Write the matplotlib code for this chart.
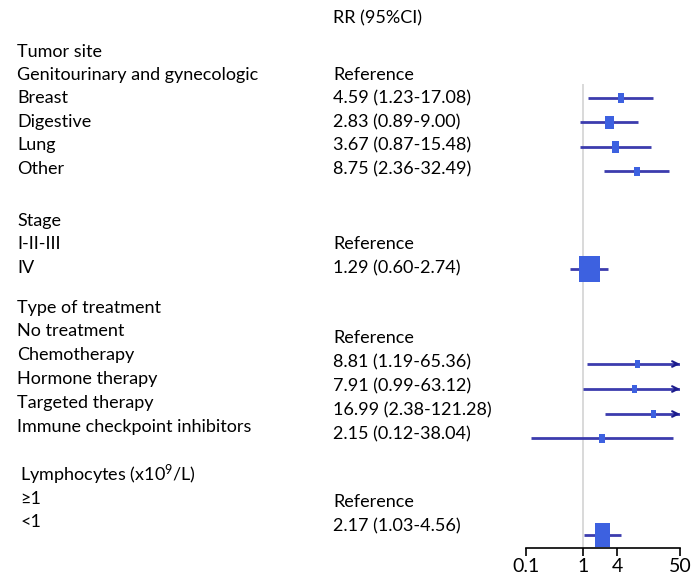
import matplotlib
matplotlib.use("Agg")
import matplotlib.pyplot as plt
from matplotlib.path import Path

plt.rcParams['font.family'] = ['Lato', 'DejaVu Sans']
plt.rcParams['mathtext.fontset'] = 'custom'
plt.rcParams['mathtext.rm'] = 'Lato'
plt.rcParams['mathtext.it'] = 'Lato'
plt.rcParams['mathtext.default'] = 'rm'

# --- data ---
labels = ["Tumor site", "Genitourinary and gynecologic", "Breast", "Digestive", "Lung", "Other",
          "Stage", "I-II-III", "IV",
          "Type of treatment", "No treatment", "Chemotherapy", "Hormone therapy",
          "Targeted therapy", "Immune checkpoint inhibitors",
          "Lymphocytes (x10$^{9}$/L)", "≥1", "<1"]
is_ref = [False, True, False, False, False, False,
          False, True, False,
          False, True, False, False, False, False,
          False, True, False]
rr = [None, None, 4.59, 2.83, 3.67, 8.75,
      None, None, 1.29,
      None, None, 8.81, 7.91, 16.99, 2.15,
      None, None, 2.17]
lo = [None, None, 1.23, 0.89, 0.87, 2.36,
      None, None, 0.60,
      None, None, 1.19, 0.99, 2.38, 0.12,
      None, None, 1.03]
hi = [None, None, 17.08, 9.00, 15.48, 32.49,
      None, None, 2.74,
      None, None, 65.36, 63.12, 121.28, 38.04,
      None, None, 4.56]
xticks = [0.1, 1, 4, 50]
xtick_labels = ["0.1", "1", "4", "50"]

# --- layout (pixel rows) ---
label_y = [52, 75, 98, 122, 145, 169, 221, 244, 268, 308, 331, 355, 379, 403, 427, 475, 499, 522]
value_y = [52, 75, 98, 122, 145, 169, 221, 244, 268, 308, 338, 362, 386, 410, 434, 475, 502, 526]
mark_y = [None, None, 98, 122, 147, 171, None, None, 269, None, None, 364, 389, 414, 438, None, None, 535]
label_x = [17] * 15 + [20] * 3
# box size (w, h) in px
box = [None, None, (7, 10), (9, 13), (7, 12), (6, 9), None, None, (21, 26), None, None,
       (5, 8), (5, 8), (5, 8), (6, 9), None, None, (15, 24)]

W, H = 693, 576
fig = plt.figure(figsize=(W / 100, H / 100), dpi=100)

def fx(x):
    return x / W

def fy(y):
    return 1 - y / H

fs = 13
fig.text(fx(333), fy(18), "RR (95%CI)", fontsize=fs, va='center', ha='left')
for i, lab in enumerate(labels):
    fig.text(fx(label_x[i]), fy(label_y[i]), lab, fontsize=fs, va='center', ha='left')
    if is_ref[i]:
        fig.text(fx(333), fy(value_y[i]), "Reference", fontsize=fs, va='center', ha='left')
    elif rr[i] is not None:
        txt = f"{rr[i]:.2f} ({lo[i]:.2f}-{hi[i]:.2f})"
        fig.text(fx(333), fy(value_y[i]), txt, fontsize=fs, va='center', ha='left')

# forest axes
top, bot = 60, 548
left, right = 526, 680
ax = fig.add_axes([fx(left), fy(bot), (right - left) / W, (bot - top) / H])
ax.set_xscale('log')
ax.set_xlim(0.1, 50)
ax.set_ylim(bot, top)
ax.patch.set_alpha(0)
for s in ['top', 'right', 'left']:
    ax.spines[s].set_visible(False)
ax.spines['bottom'].set_linewidth(1.2)
ax.set_yticks([])
ax.set_xticks(xticks)
ax.set_xticklabels(xtick_labels)
ax.minorticks_off()
ax.tick_params(axis='x', direction='out', length=6, width=1.2, labelsize=14, pad=1)

ax.plot([1, 1], [85, bot], color='#d9d9d9', lw=1.4, zorder=1)

line_c = '#3c3cae'
box_c = '#3d61e0'
arrow_c = '#1c1c8c'
for i in range(len(labels)):
    if rr[i] is None:
        continue
    y = mark_y[i]
    x1 = min(hi[i], 50)
    ax.plot([lo[i], x1], [y, y], color=line_c, lw=2, zorder=2, solid_capstyle='butt')
    if hi[i] > 50:
        ax.annotate("", xy=(50, y), xytext=(40, y),
                    arrowprops=dict(arrowstyle='->', color=arrow_c, lw=1.5,
                                    shrinkA=0, shrinkB=0), zorder=3)
    w, h = box[i]
    verts = [(-w / 2, -h / 2), (w / 2, -h / 2), (w / 2, h / 2), (-w / 2, h / 2), (-w / 2, -h / 2)]
    marker = Path(verts, [Path.MOVETO, Path.LINETO, Path.LINETO, Path.LINETO, Path.CLOSEPOLY])
    ax.plot([rr[i]], [y], marker=marker, markersize=max(w, h) * 0.72,
            color=box_c, markeredgewidth=0, zorder=4)

fig.savefig("out.png", dpi=100)
